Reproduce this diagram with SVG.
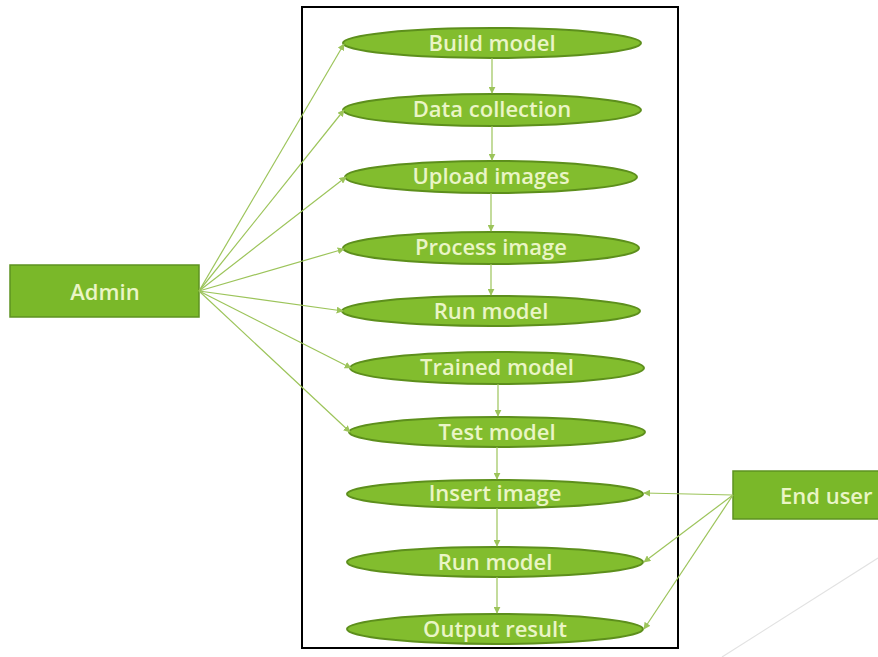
<svg xmlns="http://www.w3.org/2000/svg" width="878" height="657" viewBox="0 0 878 657">
<defs>
<marker id="ah" viewBox="0 0 10 10" refX="9" refY="5" markerWidth="7" markerHeight="7" orient="auto" markerUnits="userSpaceOnUse">
<path d="M0,0 L10,5 L0,10 z" fill="#9cc45a"/>
</marker>
</defs>
<style>
.uc ellipse{fill:#82bd2e;stroke:#5d8f1c;stroke-width:2}
.box rect{fill:#7ab829;stroke:#5e9220;stroke-width:1.5}
text{font-family:"Open Sans","DejaVu Sans",sans-serif;font-size:22px;font-weight:600;fill:#eaf5c6;text-anchor:middle;dominant-baseline:central}
.conn line{stroke:#9cc45a;stroke-width:1.2;marker-end:url(#ah)}
</style>
<rect width="878" height="657" fill="#ffffff"/>
<line x1="722" y1="657" x2="878" y2="558" stroke="#e2e2e2" stroke-width="1.2"/>
<rect id="frame" x="302" y="7" width="376" height="641" fill="#ffffff" stroke="#000000" stroke-width="2"/>
<g id="admin" class="box"><rect x="10" y="265" width="189" height="52"/><text x="105" y="291">Admin</text></g>
<g id="enduser" class="box"><rect x="733" y="471" width="160" height="48"/><text x="780" y="495" style="text-anchor:start">End user</text></g>
<g id="uc1" class="uc"><ellipse cx="492" cy="43" rx="149" ry="15"/><text x="492" y="42">Build model</text></g>
<g id="uc2" class="uc"><ellipse cx="492" cy="110" rx="149" ry="16"/><text x="492" y="108">Data collection</text></g>
<g id="uc3" class="uc"><ellipse cx="491" cy="177" rx="146" ry="16"/><text x="491" y="175">Upload images</text></g>
<g id="uc4" class="uc"><ellipse cx="491" cy="248" rx="148" ry="16"/><text x="491" y="246">Process image</text></g>
<g id="uc5" class="uc"><ellipse cx="491" cy="311" rx="149" ry="15"/><text x="491" y="310">Run model</text></g>
<g id="uc6" class="uc"><ellipse cx="497" cy="368" rx="147" ry="16"/><text x="497" y="366">Trained model</text></g>
<g id="uc7" class="uc"><ellipse cx="497" cy="432" rx="148" ry="15"/><text x="497" y="431">Test model</text></g>
<g id="uc8" class="uc"><ellipse cx="495" cy="494" rx="148" ry="14"/><text x="495" y="492">Insert image</text></g>
<g id="uc9" class="uc"><ellipse cx="495" cy="562" rx="148" ry="15"/><text x="495" y="561">Run model</text></g>
<g id="uc10" class="uc"><ellipse cx="495" cy="629" rx="148" ry="15"/><text x="495" y="628">Output result</text></g>
<g id="connectors" class="conn">
<line x1="199" y1="291" x2="344" y2="44"/>
<line x1="199" y1="291" x2="344" y2="110"/>
<line x1="199" y1="291" x2="346" y2="177"/>
<line x1="199" y1="291" x2="344" y2="249"/>
<line x1="199" y1="291" x2="343" y2="311"/>
<line x1="199" y1="291" x2="351" y2="368"/>
<line x1="199" y1="291" x2="350" y2="432"/>
<line x1="733" y1="495" x2="644" y2="493"/>
<line x1="733" y1="495" x2="644" y2="562"/>
<line x1="733" y1="495" x2="644" y2="629"/>
<line x1="492" y1="58" x2="492" y2="93"/>
<line x1="492" y1="126" x2="492" y2="160"/>
<line x1="491" y1="193" x2="491" y2="231"/>
<line x1="491" y1="264" x2="491" y2="295"/>
<line x1="498" y1="384" x2="498" y2="416"/>
<line x1="497" y1="447" x2="497" y2="479"/>
<line x1="497" y1="508" x2="497" y2="546"/>
<line x1="497" y1="577" x2="497" y2="613"/>
</g>
</svg>
